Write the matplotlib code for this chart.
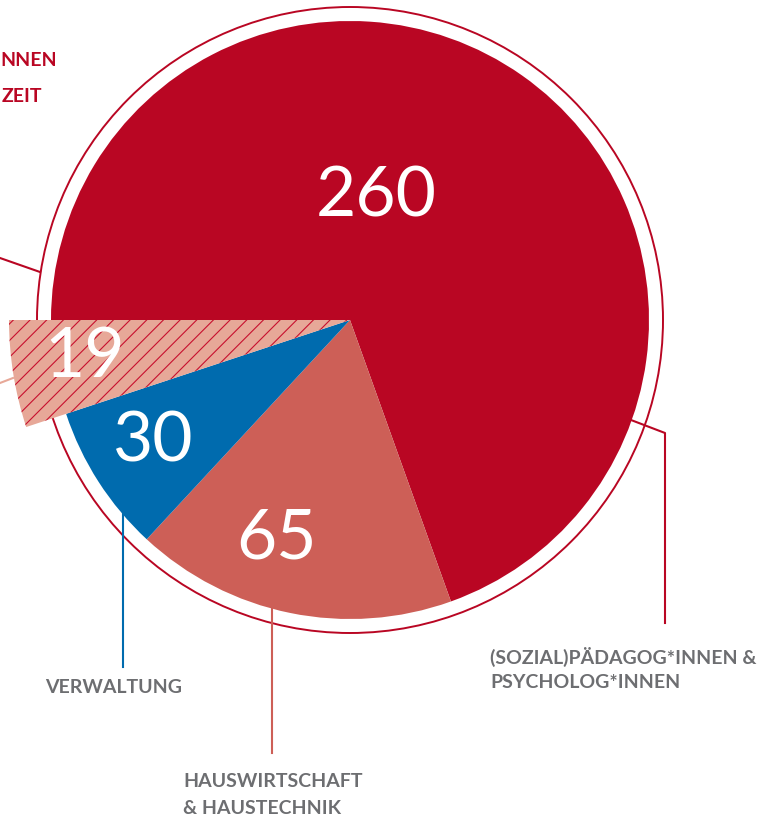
import matplotlib
matplotlib.use("Agg")
import matplotlib.pyplot as plt
from matplotlib.patches import Circle

# data
values = [260, 65, 30, 19]
value_labels = ["260", "65", "30", "19"]
colors = ["#b90623", "#cd5f57", "#006bae", "#e7a898"]
cat_labels = [
    ["(SOZIAL)PÄDAGOG*INNEN &", "PSYCHOLOG*INNEN"],
    ["HAUSWIRTSCHAFT", "& HAUSTECHNIK"],
    ["VERWALTUNG"],
]
# only the visible ends of the label cut by the left edge
side_labels = ["NNEN", "ZEIT"]

RED = "#b90623"
GRAY = "#6d6e71"
W, H = 769, 817


def py(y):
    # pixel row -> data y
    return H - y


fig = plt.figure(figsize=(W / 100, H / 100), dpi=100)
ax = fig.add_axes([0, 0, 1, 1])

cx, cy = 350, py(320)
R = 299
plt.rcParams["hatch.linewidth"] = 0.8

wedges, _ = ax.pie(values, radius=R, center=(cx, cy), startangle=180,
                   counterclock=False, colors=colors,
                   wedgeprops=dict(linewidth=0))
# highlighted small slice: bigger radius, hatched
w19 = wedges[3]
w19.set_radius(341)
w19.set_hatch("//")
w19.set_edgecolor("#c8102e")
w19.set_linewidth(0)
w19.set_zorder(3)

# outer ring
ax.add_patch(Circle((cx, cy), 313, fill=False, edgecolor=RED, lw=1.4, zorder=0.5))

# value numbers
num_pos = [(376, 197), (276, 539), (153, 442), (85, 357)]
for (x, y), txt in zip(num_pos, value_labels):
    ax.text(x, py(y), txt, color="white", fontsize=50, family="Lato",
            ha="center", va="center", zorder=5)

# leader lines
lw = 1.5
ax.plot([631, 665, 665], [py(420), py(433), py(623)], color=RED, lw=lw, zorder=4)
ax.plot([272, 272], [py(608), py(753)], color=colors[1], lw=lw, zorder=4)
ax.plot([123, 123], [py(513), py(667)], color=colors[2], lw=lw, zorder=4)
ax.plot([0, 40], [py(258), py(272)], color=RED, lw=lw, zorder=4)
ax.plot([0, 13], [py(383), py(378)], color=colors[3], lw=lw, zorder=4)

# category labels
fs = 14
lab_pos = [(490, 647), (183, 773), (45, 679)]
for (x, y), lines in zip(lab_pos, cat_labels):
    for i, line in enumerate(lines):
        ax.text(x, py(y + i * 27), line, color=GRAY, fontsize=fs, family="Lato",
                fontweight="bold", ha="left", va="top")

# label cut by the left edge
ax.text(57, py(52), side_labels[0], color=RED, fontsize=fs, family="Lato",
        fontweight="bold", ha="right", va="top")
ax.text(2, py(88), side_labels[1], color=RED, fontsize=fs, family="Lato",
        fontweight="bold", ha="left", va="top")

ax.set_xlim(0, W)
ax.set_ylim(0, H)
ax.set_aspect("auto")
ax.axis("off")

fig.savefig("out.png", dpi=100)
